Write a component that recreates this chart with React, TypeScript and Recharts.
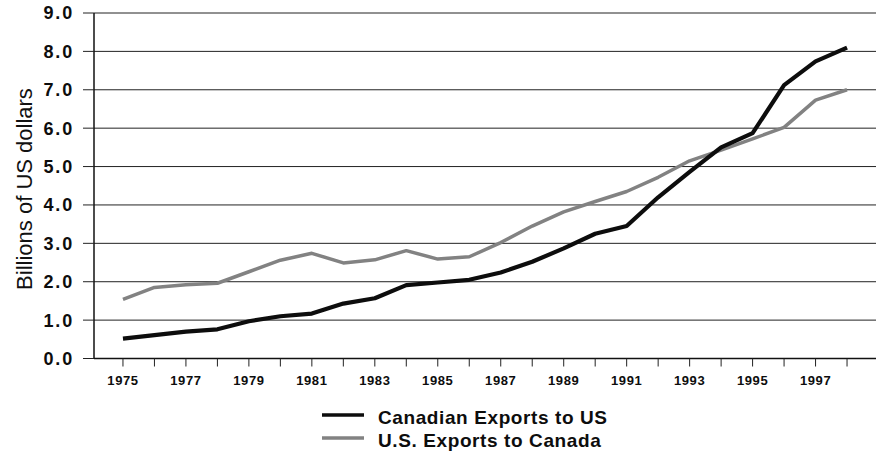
import React from "react";
import { LineChart, Line, XAxis, YAxis, CartesianGrid, Legend } from "recharts";

const years = [1975, 1976, 1977, 1978, 1979, 1980, 1981, 1982, 1983, 1984, 1985, 1986, 1987, 1988, 1989, 1990, 1991, 1992, 1993, 1994, 1995, 1996, 1997, 1998];
const canadianExports = [0.52, 0.61, 0.70, 0.76, 0.97, 1.10, 1.17, 1.43, 1.57, 1.91, 1.98, 2.05, 2.24, 2.52, 2.87, 3.25, 3.45, 4.2, 4.86, 5.5, 5.87, 7.12, 7.74, 8.1];
const usExports = [1.54, 1.85, 1.92, 1.96, 2.26, 2.56, 2.74, 2.49, 2.57, 2.81, 2.59, 2.65, 3.02, 3.45, 3.82, 4.09, 4.35, 4.72, 5.15, 5.43, 5.72, 6.02, 6.73, 7.0];
const yTicks = [0, 1, 2, 3, 4, 5, 6, 7, 8, 9];
const seriesNames = ["Canadian Exports to US", "U.S. Exports to Canada"];
const yAxisTitle = "Billions of US dollars";

const data = years.map((y, i) => ({ year: y, canada: canadianExports[i], us: usExports[i] }));

const FONT = "'Liberation Sans', Arial, sans-serif";
const BLACK = "#0d0d0d";
const GRAY = "#828282";

const LegendContent = () => (
  <div style={{ position: "relative", width: 876, height: 57, fontFamily: FONT }}>
    {[BLACK, GRAY].map((c, i) => (
      <React.Fragment key={i}>
        <svg style={{ position: "absolute", left: 321, top: 9 + i * 23 - 1, width: 44, height: 14 }}>
          <line x1={1} y1={7} x2={43} y2={7} stroke={c} strokeWidth={3.5} />
        </svg>
        <span
          style={{
            position: "absolute",
            left: 378,
            top: 8 + i * 23,
            fontSize: 19,
            lineHeight: "19px",
            fontWeight: "bold",
            letterSpacing: 0.6,
            whiteSpace: "nowrap",
            color: "#0d0d0d",
          }}
        >
          {seriesNames[i]}
        </span>
      </React.Fragment>
    ))}
  </div>
);

export default function App() {
  return (
    <div style={{ position: "absolute", left: 0, top: 0, width: 876, height: 457, background: "#fff" }}>
      <LineChart width={876} height={457} data={data} margin={{ top: 13, right: 0, bottom: 68.5, left: 0 }}>
        <CartesianGrid vertical={false} stroke="#222" strokeWidth={1} />
        <XAxis
          dataKey="year"
          type="number"
          domain={[1974.08, 1998.92]}
          ticks={years}
          interval={0}
          height={30}
          tickSize={8}
          tickMargin={9.5}
          stroke="#222"
          tickLine={{ stroke: "#222" }}
          axisLine={{ stroke: "#111", strokeWidth: 1.5 }}
          tickFormatter={(v: number) => (v % 2 === 1 ? String(v) : "")}
          tick={{ fill: "#0d0d0d", fontSize: 13, fontWeight: "bold", fontFamily: FONT, letterSpacing: 0.6 }}
        />
        <YAxis
          domain={[0, 9]}
          ticks={yTicks}
          interval={0}
          width={94}
          tickSize={11}
          tickMargin={9}
          stroke="#222"
          axisLine={{ stroke: "#111", strokeWidth: 1.5 }}
          tickLine={{ stroke: "#222" }}
          tickFormatter={(v: number) => v.toFixed(1)}
          tick={{ fill: "#0d0d0d", fontSize: 18, fontWeight: "bold", fontFamily: FONT, letterSpacing: 1.8 }}
          label={{
            content: () => (
              <text
                x={31.5}
                y={189}
                transform="rotate(-90, 31.5, 189)"
                textAnchor="middle"
                fontSize={22}
                fontFamily={FONT}
                fill="#111"
              >
                {yAxisTitle}
              </text>
            ),
          }}
        />
        <Line
          type="linear"
          dataKey="us"
          name={seriesNames[1]}
          stroke={GRAY}
          strokeWidth={3.5}
          dot={false}
          strokeLinejoin="round"
          isAnimationActive={false}
        />
        <Line
          type="linear"
          dataKey="canada"
          name={seriesNames[0]}
          stroke={BLACK}
          strokeWidth={4.2}
          dot={false}
          strokeLinejoin="round"
          isAnimationActive={false}
        />
        <Legend
          layout="vertical"
          align="center"
          verticalAlign="middle"
          wrapperStyle={{ position: "absolute", top: 400, left: 0, width: 876, height: 57 }}
          content={() => <LegendContent />}
        />
      </LineChart>
    </div>
  );
}
